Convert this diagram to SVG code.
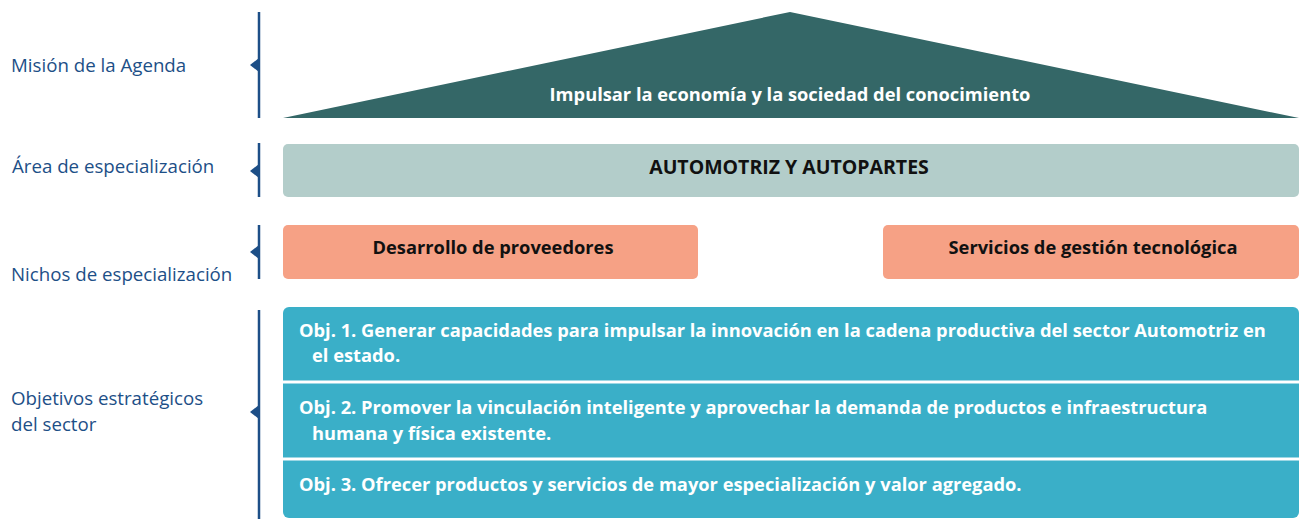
<svg xmlns="http://www.w3.org/2000/svg" width="1299" height="519" viewBox="0 0 1299 519">
<defs>
<style>
.lbl{font-family:"Open Sans",Lato,"Liberation Sans",sans-serif;font-size:18.7px;fill:#1d4f87}
.b{font-family:"Open Sans",Lato,"Liberation Sans",sans-serif;font-weight:bold;font-size:18.3px}
.w{fill:#ffffff}
.k{fill:#111111}
.vl{stroke:#1d4f87;stroke-width:2.5;fill:none}
.tip{fill:#1d4f87}
</style>
</defs>
<rect width="1299" height="519" fill="#ffffff"/>
<g id="connectors">
<line class="vl" x1="259" y1="12" x2="259" y2="118"/>
<polygon class="tip" points="250,65 259,58 259,72"/>
<line class="vl" x1="259" y1="143" x2="259" y2="197"/>
<polygon class="tip" points="250,171 259,164 259,178"/>
<line class="vl" x1="259" y1="225" x2="259" y2="279"/>
<polygon class="tip" points="250,252 259,245 259,259"/>
<line class="vl" x1="259" y1="310" x2="259" y2="519"/>
<polygon class="tip" points="250,412 259,405 259,419"/>
</g>
<g id="label-mision"><text class="lbl" x="11" y="72">Misión de la Agenda</text></g>
<g id="label-area"><text class="lbl" x="12" y="173">Área de especialización</text></g>
<g id="label-nichos"><text class="lbl" x="11" y="281">Nichos de especialización</text></g>
<g id="label-objetivos"><text class="lbl" x="11" y="405">Objetivos estratégicos</text><text class="lbl" x="11" y="431">del sector</text></g>
<g id="mision">
<polygon points="283,118 790,12 1299,118" fill="#346767"/>
<text class="b w" x="790" y="101" text-anchor="middle">Impulsar la economía y la sociedad del conocimiento</text>
</g>
<g id="area">
<rect x="283" y="144" width="1016" height="53" rx="5" fill="#b3cdca"/>
<text class="b k" x="789" y="174" text-anchor="middle" style="font-size:19.5px">AUTOMOTRIZ Y AUTOPARTES</text>
</g>
<g id="nicho-1">
<rect x="283" y="225" width="415" height="54" rx="5" fill="#f6a185"/>
<text class="b k" x="493" y="254" text-anchor="middle">Desarrollo de proveedores</text>
</g>
<g id="nicho-2">
<rect x="883" y="225" width="416" height="54" rx="5" fill="#f6a185"/>
<text class="b k" x="1093" y="254" text-anchor="middle">Servicios de gestión tecnológica</text>
</g>
<g id="objetivos">
<rect x="283" y="307" width="1016" height="211" rx="6" fill="#3aafc8"/>
<line x1="283" y1="382" x2="1299" y2="382" stroke="#ffffff" stroke-width="3"/>
<line x1="283" y1="459" x2="1299" y2="459" stroke="#ffffff" stroke-width="3"/>
<text class="b w" x="299" y="337">Obj. 1. Generar capacidades para impulsar la innovación en la cadena productiva del sector Automotriz en</text>
<text class="b w" x="312" y="362">el estado.</text>
<text class="b w" x="299" y="414">Obj. 2. Promover la vinculación inteligente y aprovechar la demanda de productos e infraestructura</text>
<text class="b w" x="312" y="440">humana y física existente.</text>
<text class="b w" x="299" y="491">Obj. 3. Ofrecer productos y servicios de mayor especialización y valor agregado.</text>
</g>
</svg>
